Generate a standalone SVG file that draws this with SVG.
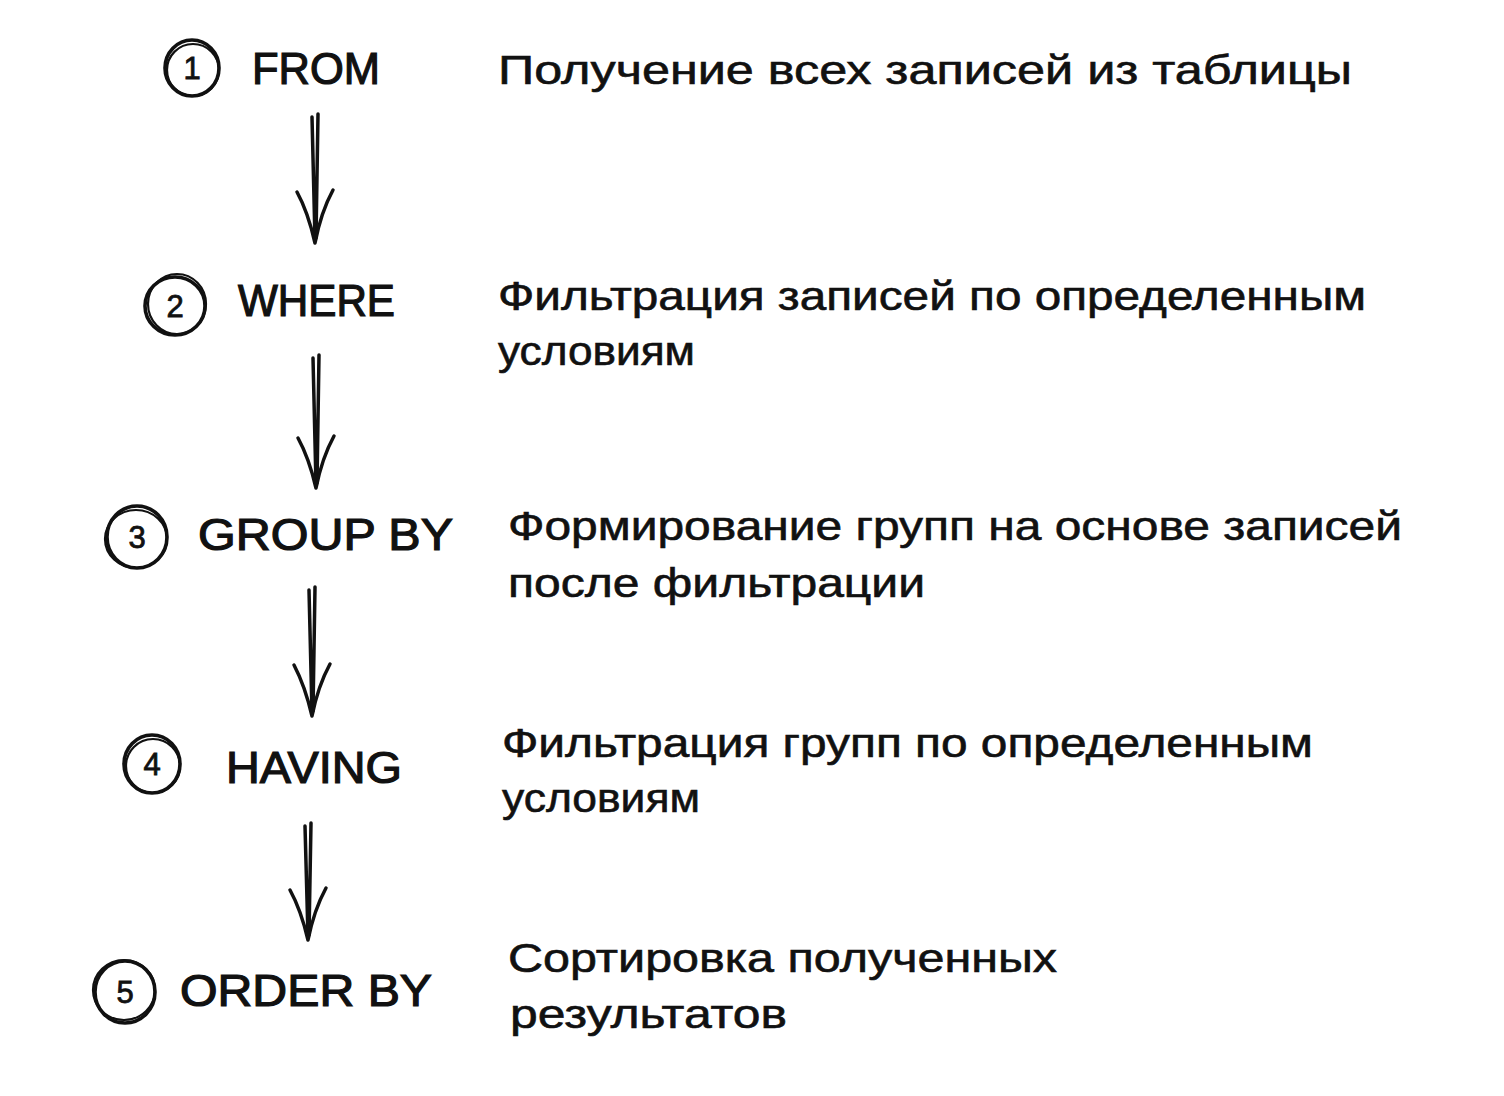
<svg xmlns="http://www.w3.org/2000/svg" width="1504" height="1096" viewBox="0 0 1504 1096">
<style>
.bg{fill:#fff}
.c{fill:none;stroke:#111;stroke-width:3.6;stroke-linecap:round}
.c2{fill:none;stroke:#111;stroke-width:2.2;stroke-linecap:round}
.n{font-family:"Liberation Sans",Arial,sans-serif;font-size:31px;fill:#111;stroke:#111;stroke-width:0.8;text-anchor:middle}
.k{font-family:"Liberation Sans",Arial,sans-serif;font-size:44px;fill:#111;stroke:#111;stroke-width:1.2}
.d{font-family:"Liberation Sans",Arial,sans-serif;font-size:40px;fill:#111;stroke:#111;stroke-width:0.6}
.a{fill:none;stroke:#111;stroke-width:3.5;stroke-linecap:round;stroke-linejoin:round}
</style>
<rect class="bg" width="1504" height="1096"/>
<g id="connectors">
  <g id="arrow1"><path class="a" d="M312 117 L315 240 M318 114 L316 238"/><path class="a" d="M297 192 Q308 212 315 243 Q321 212 333 190"/></g>
  <g id="arrow2"><path class="a" d="M313 358 L316 485 M319 355 L317 483"/><path class="a" d="M298 438 Q309 458 316 488 Q322 458 334 436"/></g>
  <g id="arrow3"><path class="a" d="M309 590 L312 713 M315 587 L313 711"/><path class="a" d="M294 665 Q305 686 312 716 Q318 686 330 664"/></g>
  <g id="arrow4"><path class="a" d="M305 826 L308 937 M311 823 L309 935"/><path class="a" d="M290 890 Q301 910 308 940 Q314 910 326 888"/></g>
</g>
<g id="node1">
  <ellipse class="c" cx="192" cy="68" rx="27" ry="28"/>
  <ellipse class="c2" cx="193" cy="70" rx="26" ry="26"/>
  <text class="n" x="192" y="79">1</text>
  <text class="k" x="252" y="84" textLength="128" lengthAdjust="spacingAndGlyphs">FROM</text>
  <text class="d" x="498" y="84" textLength="854" lengthAdjust="spacingAndGlyphs">Получение всех записей из таблицы</text>
</g>
<g id="node2">
  <ellipse class="c" cx="175" cy="306" rx="30" ry="29"/>
  <ellipse class="c2" cx="177" cy="304" rx="29" ry="30"/>
  <text class="n" x="175" y="317">2</text>
  <text class="k" x="238" y="316" textLength="157" lengthAdjust="spacingAndGlyphs">WHERE</text>
  <text class="d" x="498" y="310" textLength="868" lengthAdjust="spacingAndGlyphs">Фильтрация записей по определенным</text>
  <text class="d" x="498" y="365" textLength="197" lengthAdjust="spacingAndGlyphs">условиям</text>
</g>
<g id="node3">
  <ellipse class="c" cx="137" cy="537" rx="30" ry="31"/>
  <ellipse class="c2" cx="136" cy="539" rx="31" ry="29"/>
  <text class="n" x="137" y="548">3</text>
  <text class="k" x="198" y="550" textLength="255" lengthAdjust="spacingAndGlyphs">GROUP BY</text>
  <text class="d" x="508" y="540" textLength="894" lengthAdjust="spacingAndGlyphs">Формирование групп на основе записей</text>
  <text class="d" x="508" y="597" textLength="417" lengthAdjust="spacingAndGlyphs">после фильтрации</text>
</g>
<g id="node4">
  <ellipse class="c" cx="152" cy="764" rx="28" ry="29"/>
  <ellipse class="c2" cx="153" cy="766" rx="27" ry="27"/>
  <text class="n" x="152" y="775">4</text>
  <text class="k" x="226" y="783" textLength="176" lengthAdjust="spacingAndGlyphs">HAVING</text>
  <text class="d" x="502" y="757" textLength="811" lengthAdjust="spacingAndGlyphs">Фильтрация групп по определенным</text>
  <text class="d" x="502" y="812" textLength="198" lengthAdjust="spacingAndGlyphs">условиям</text>
</g>
<g id="node5">
  <ellipse class="c" cx="125" cy="992" rx="30" ry="31"/>
  <ellipse class="c2" cx="124" cy="990" rx="31" ry="30"/>
  <text class="n" x="125" y="1003">5</text>
  <text class="k" x="180" y="1006" textLength="252" lengthAdjust="spacingAndGlyphs">ORDER BY</text>
  <text class="d" x="508" y="972" textLength="549" lengthAdjust="spacingAndGlyphs">Сортировка полученных</text>
  <text class="d" x="510" y="1028" textLength="277" lengthAdjust="spacingAndGlyphs">результатов</text>
</g>
</svg>
